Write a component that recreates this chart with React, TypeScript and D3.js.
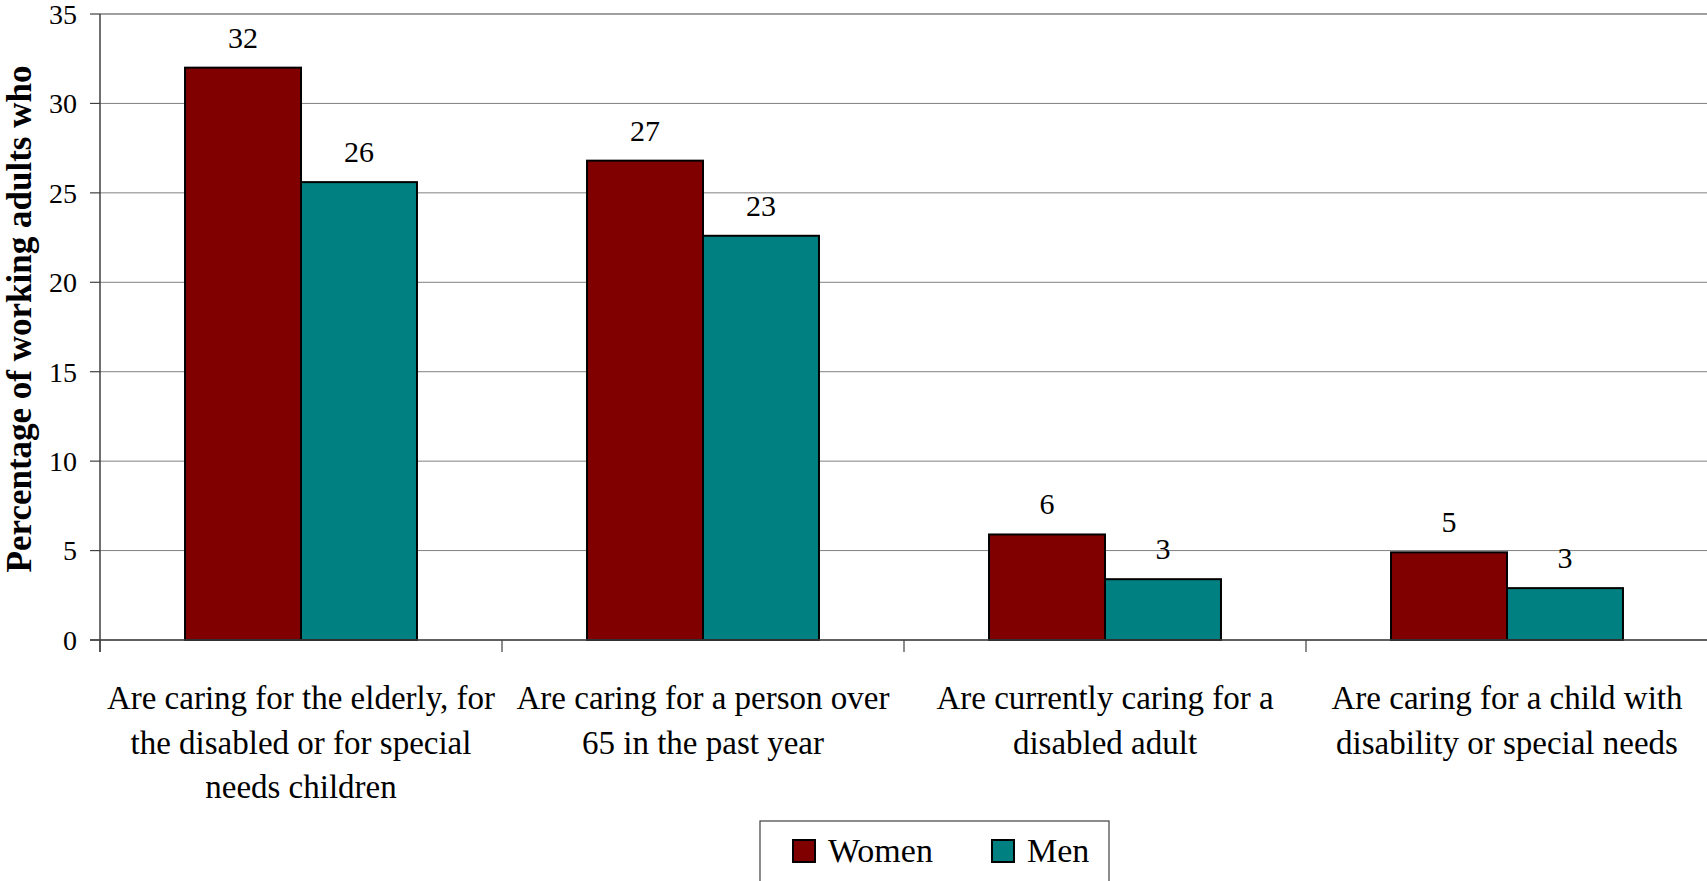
import React from "react";
import * as d3 from "d3";

const categories: string[][] = [
  ["Are caring for the elderly, for", "the disabled or for special", "needs children"],
  ["Are caring for a person over", "65 in the past year"],
  ["Are currently caring for a", "disabled adult"],
  ["Are caring for a child with", "disability or special needs"],
];
const seriesNames = ["Women", "Men"];
const women = [32.0, 26.8, 5.9, 4.9];
const men = [25.6, 22.6, 3.4, 2.9];
const yTicks = [0, 5, 10, 15, 20, 25, 30, 35];
const yTitle = "Percentage of working adults who";

const W = 1707;
const H = 881;
const colors = ["#800000", "#008080"];
const FONT = "'Liberation Serif', 'Times New Roman', serif";

export default function App() {
  const left = 100;
  const right = 1708;
  const top = 14;
  const bottom = 640;
  const idx = categories.map((_, i) => String(i));
  const x0 = d3.scaleBand<string>().domain(idx).range([left, right]).padding(0);
  const groupW = x0.bandwidth() * 0.577;
  const x1 = d3
    .scaleBand<string>()
    .domain(seriesNames)
    .range([0, groupW])
    .padding(0);
  const y = d3.scaleLinear().domain([0, 35]).range([bottom, top]);
  const series = [women, men];

  return (
    <div style={{ position: "absolute", left: 0, top: 0 }}>
      <svg width={W} height={H} style={{ display: "block", background: "#fff" }} fontFamily={FONT}>
        {/* gridlines */}
        {yTicks.map((t) => (
          <line
            key={"g" + t}
            x1={left}
            x2={W}
            y1={y(t)}
            y2={y(t)}
            stroke="#808080"
            strokeWidth={t === 35 ? 1.5 : 1}
          />
        ))}
        {/* y tick marks and labels */}
        {yTicks.map((t) => (
          <g key={"t" + t}>
            <line x1={90} x2={left} y1={y(t)} y2={y(t)} stroke="#404040" strokeWidth={1.2} />
            <text x={77} y={y(t)} dy="0.35em" textAnchor="end" fontSize={28} fill="#000">
              {t}
            </text>
          </g>
        ))}
        {/* bars */}
        {idx.map((c, i) => {
          const gx = (x0(c) as number) + (x0.bandwidth() - groupW) / 2;
          return (
            <g key={"b" + c}>
              {seriesNames.map((s, j) => {
                const v = series[j][i];
                const bx = gx + (x1(s) as number);
                return (
                  <g key={s}>
                    <rect
                      x={bx}
                      y={y(v)}
                      width={x1.bandwidth()}
                      height={bottom - y(v)}
                      fill={colors[j]}
                      stroke="#000"
                      strokeWidth={2}
                    />
                    <text
                      x={bx + x1.bandwidth() / 2}
                      y={y(v) - 20}
                      textAnchor="middle"
                      fontSize={30}
                      fill="#000"
                    >
                      {Math.round(v)}
                    </text>
                  </g>
                );
              })}
            </g>
          );
        })}
        {/* axes */}
        <line x1={left} x2={left} y1={top} y2={bottom + 12} stroke="#404040" strokeWidth={1.5} />
        <line x1={left - 10} x2={W} y1={bottom} y2={bottom} stroke="#404040" strokeWidth={1.5} />
        {idx.map((c) => (
          <line
            key={"ct" + c}
            x1={x0(c) as number}
            x2={x0(c) as number}
            y1={bottom}
            y2={bottom + 12}
            stroke="#404040"
            strokeWidth={1.2}
          />
        ))}
        {/* category labels */}
        {categories.map((lines, i) => {
          const cx = (x0(String(i)) as number) + x0.bandwidth() / 2;
          return (
            <text key={"cl" + i} textAnchor="middle" fontSize={33} fill="#000">
              {lines.map((ln, k) => (
                <tspan key={k} x={cx} y={709 + k * 44.5}>
                  {ln}
                </tspan>
              ))}
            </text>
          );
        })}
        {/* y title */}
        <text
          transform="translate(31,319) rotate(-90)"
          textAnchor="middle"
          fontSize={35}
          fontWeight="bold"
          fill="#000"
        >
          {yTitle}
        </text>
        {/* legend */}
        <rect x={760} y={821} width={349} height={80} fill="#fff" stroke="#404040" strokeWidth={1.2} />
        {seriesNames.map((s, j) => {
          const lx = j === 0 ? 793 : 992;
          return (
            <g key={"l" + s}>
              <rect x={lx} y={840} width={22} height={22} fill={colors[j]} stroke="#000" strokeWidth={2} />
              <text x={lx + 35} y={862} fontSize={34} fill="#000">
                {s}
              </text>
            </g>
          );
        })}
      </svg>
    </div>
  );
}
